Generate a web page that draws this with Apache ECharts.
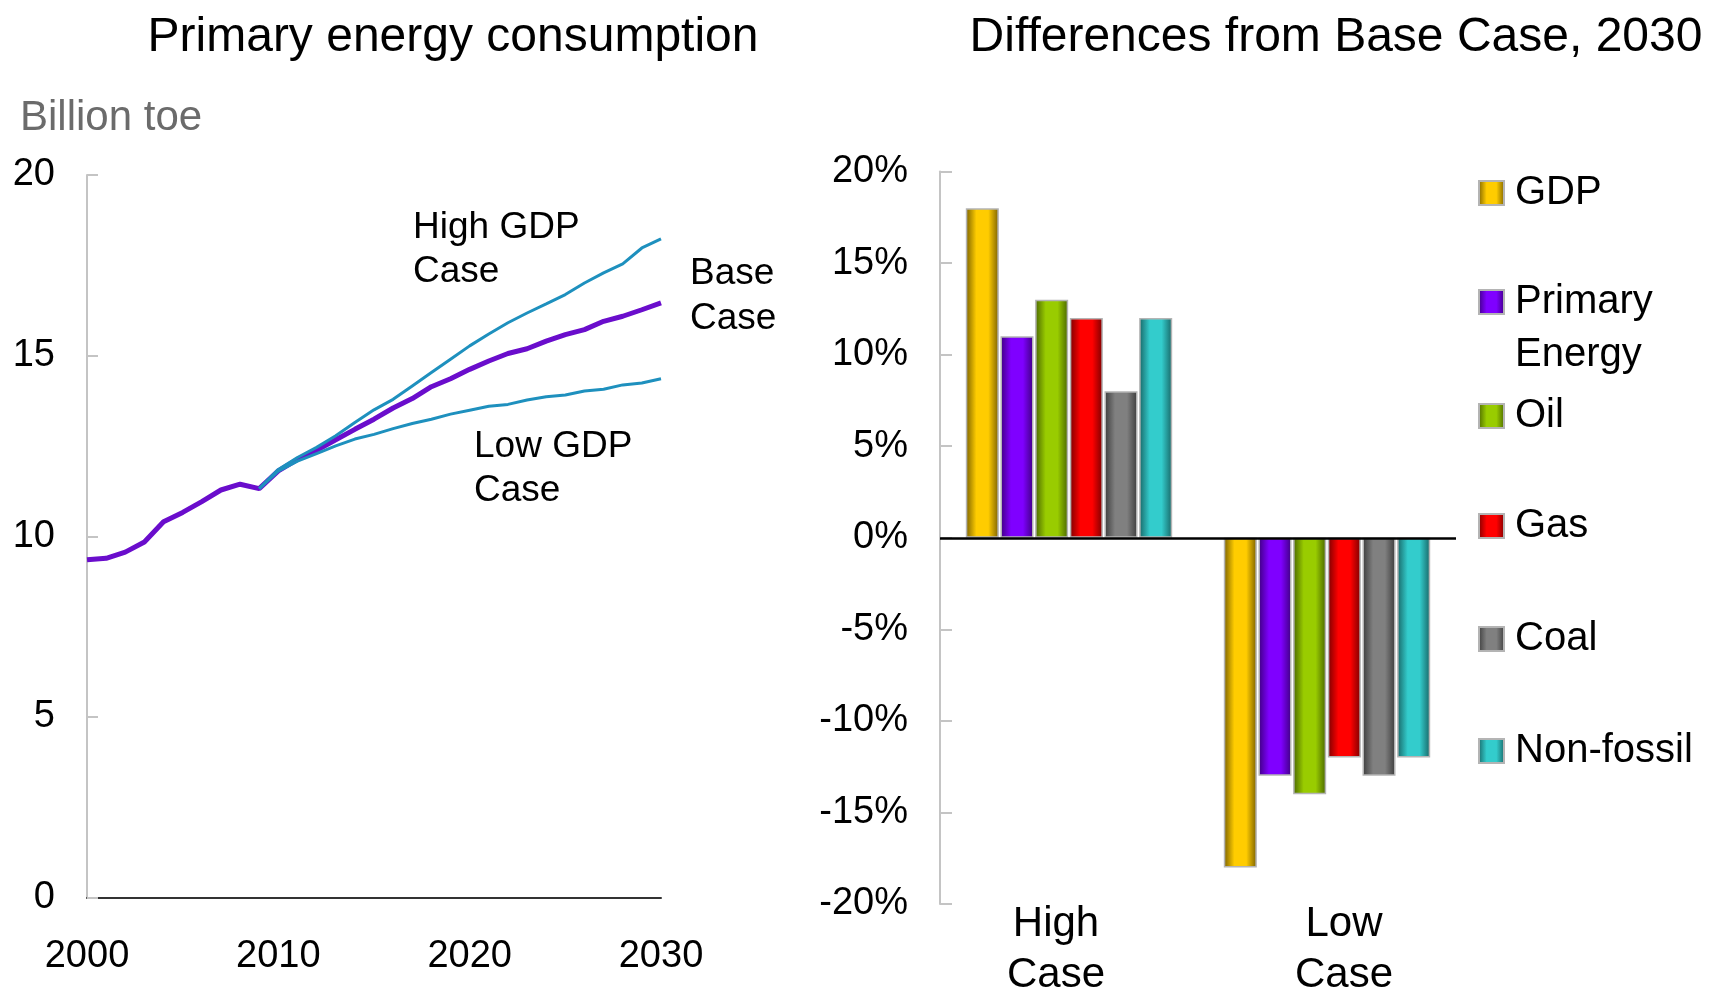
<!DOCTYPE html>
<html>
<head>
<meta charset="utf-8">
<script src="https://cdn.jsdelivr.net/npm/echarts@6/dist/echarts.min.js"></script>
<style>
html,body{margin:0;padding:0;background:#fff;}
#chart{width:1724px;height:994px;}
</style>
</head>
<body>
<div id="chart"></div>
<script>
// ---------- Data ----------
const years = ['2000','2001','2002','2003','2004','2005','2006','2007','2008','2009',
  '2010','2011','2012','2013','2014','2015','2016','2017','2018','2019',
  '2020','2021','2022','2023','2024','2025','2026','2027','2028','2029','2030'];
const baseCase = [9.35, 9.39, 9.56, 9.84, 10.40, 10.66, 10.96, 11.28, 11.44, 11.32,
  11.81, 12.13, 12.38, 12.67, 12.96, 13.24, 13.55, 13.81, 14.14, 14.36,
  14.62, 14.85, 15.06, 15.19, 15.40, 15.58, 15.72, 15.95, 16.09, 16.27, 16.46];
const highGdpCase = [null, null, null, null, null, null, null, null, null, 11.32,
  11.85, 12.18, 12.46, 12.78, 13.15, 13.50, 13.79, 14.16, 14.53, 14.90,
  15.27, 15.60, 15.91, 16.18, 16.43, 16.69, 17.01, 17.29, 17.54, 17.98, 18.23];
const lowGdpCase = [null, null, null, null, null, null, null, null, null, 11.32,
  11.80, 12.08, 12.29, 12.50, 12.69, 12.82, 12.98, 13.12, 13.24, 13.38,
  13.49, 13.60, 13.65, 13.77, 13.86, 13.91, 14.02, 14.07, 14.19, 14.24, 14.36];

const barCategories = ['High\nCase', 'Low\nCase'];
const barSeriesNames = ['GDP', 'Primary Energy', 'Oil', 'Gas', 'Coal', 'Non-fossil'];
const gdpDiff = [18, -18];
const primaryEnergyDiff = [11, -13];
const oilDiff = [13, -14];
const gasDiff = [12, -12];
const coalDiff = [8, -13];
const nonFossilDiff = [12, -12];

const leftTitle = 'Primary energy consumption';
const rightTitle = 'Differences from Base Case, 2030';
const leftUnit = 'Billion toe';

// ---------- Styles ----------
const FONT = '"Liberation Sans", Arial, Helvetica, sans-serif';
const barColors = [
  ['#FFCC00', '#7A6000'],
  ['#7F00FF', '#3E0080'],
  ['#99CC00', '#4A6600'],
  ['#FF0000', '#7A0000'],
  ['#808080', '#3C3C3C'],
  ['#33CCCC', '#186666']
];
function cyl(c) {
  return {
    type: 'linear', x: 0, y: 0, x2: 1, y2: 0,
    colorStops: [
      {offset: 0, color: c[1]},
      {offset: 0.32, color: c[0]},
      {offset: 0.68, color: c[0]},
      {offset: 1, color: c[1]}
    ]
  };
}
const barValues = [gdpDiff, primaryEnergyDiff, oilDiff, gasDiff, coalDiff, nonFossilDiff];
const legendCenters = [192, 302, 415, 525, 638, 750];

const chart = echarts.init(document.getElementById('chart'), null, {renderer: 'canvas'});

const barSeries = barSeriesNames.map((name, i) => {
  const s = {
    name: name,
    type: 'bar',
    xAxisIndex: 1, yAxisIndex: 1,
    data: barValues[i],
    barCategoryGap: '20%',
    barGap: '5%',
    itemStyle: {color: cyl(barColors[i]), borderColor: '#b4b4b4', borderWidth: 1.5},
    emphasis: {disabled: true},
    animation: false
  };
  if (i === 0) {
    s.markLine = {
      silent: true, symbol: ['none', 'none'], label: {show: false},
      lineStyle: {color: '#000', width: 2.5, type: 'solid'},
      data: [{yAxis: 0}], animation: false, z: 10
    };
  }
  return s;
});

const LH = 53;
const legends = barSeriesNames.map((name, i) => {
  const multi = name === 'Primary Energy';
  return {
    data: [name],
    orient: 'vertical',
    left: 1478,
    top: multi ? legendCenters[i] - 1.5 * LH : legendCenters[i] - 20,
    padding: 0,
    itemWidth: 25, itemHeight: 24,
    icon: 'rect',
    selectedMode: false,
    formatter: multi ? '\nPrimary\nEnergy' : '{name}',
    textStyle: {fontSize: 40, fontFamily: FONT, color: '#000', lineHeight: multi ? LH : 42,
                padding: [0, 0, 0, 6]}
  };
});

const option = {
  backgroundColor: '#fff',
  animation: false,
  textStyle: {fontFamily: FONT},
  title: [
    {text: leftTitle, left: 453, top: 14, textAlign: 'center', padding: 0,
     textStyle: {fontSize: 48, fontWeight: 'normal', color: '#000', fontFamily: FONT}},
    {text: rightTitle, left: 1336, top: 14, textAlign: 'center', padding: 0,
     textStyle: {fontSize: 48, fontWeight: 'normal', color: '#000', fontFamily: FONT}}
  ],
  legend: legends,
  graphic: [
    {type: 'text', x: 20, y: 118, silent: true,
     style: {text: leftUnit, font: '42px ' + FONT, fill: '#6b6b6b', textVerticalAlign: 'middle'}},
    {type: 'text', x: 413, y: 250, silent: true,
     style: {text: 'High GDP\nCase', font: '37px ' + FONT, fill: '#000', lineHeight: 44, textVerticalAlign: 'middle'}},
    {type: 'text', x: 690, y: 296, silent: true,
     style: {text: 'Base\nCase', font: '37px ' + FONT, fill: '#000', lineHeight: 45, textVerticalAlign: 'middle'}},
    {type: 'text', x: 474, y: 469, silent: true,
     style: {text: 'Low GDP\nCase', font: '37px ' + FONT, fill: '#000', lineHeight: 44, textVerticalAlign: 'middle'}}
  ],
  grid: [
    {left: 87, right: 1063, top: 175, bottom: 96.5, containLabel: false, outerBoundsMode: 'none'},
    {left: 940, right: 268, top: 171.5, bottom: 90, containLabel: false, outerBoundsMode: 'none'}
  ],
  xAxis: [
    {
      type: 'category', gridIndex: 0, data: years, boundaryGap: false,
      axisLine: {lineStyle: {color: '#333', width: 2}},
      axisTick: {show: false},
      axisLabel: {interval: 9, fontSize: 38, color: '#000', margin: 40, fontFamily: FONT},
      splitLine: {show: false}
    },
    {
      type: 'category', gridIndex: 1, data: [
        {value: barCategories[0], textStyle: {padding: [0, 26, 0, 0]}},
        {value: barCategories[1], textStyle: {padding: [0, 0, 0, 34]}}
      ],
      position: 'bottom',
      axisLine: {show: false, onZero: false},
      axisTick: {show: false},
      axisLabel: {fontSize: 42, color: '#000', margin: -5, lineHeight: 51, fontFamily: FONT},
      splitLine: {show: false}
    }
  ],
  yAxis: [
    {
      type: 'value', gridIndex: 0, min: 0, max: 20, interval: 5,
      axisLine: {show: true, lineStyle: {color: '#c4c4c4', width: 2}},
      axisTick: {show: true, inside: true, length: 11, lineStyle: {color: '#c4c4c4', width: 2}},
      axisLabel: {fontSize: 38, color: '#000', margin: 32, fontFamily: FONT},
      splitLine: {show: false}
    },
    {
      type: 'value', gridIndex: 1, min: -20, max: 20, interval: 5,
      axisLine: {show: true, onZero: false, lineStyle: {color: '#c4c4c4', width: 2}},
      axisTick: {show: true, inside: true, length: 12, lineStyle: {color: '#c4c4c4', width: 2}},
      axisLabel: {fontSize: 38, color: '#000', margin: 32, formatter: '{value}%', fontFamily: FONT},
      splitLine: {show: false}
    }
  ],
  series: [
    {name: 'Base Case', type: 'line', xAxisIndex: 0, yAxisIndex: 0, data: baseCase,
     symbol: 'none', lineStyle: {color: '#6A0DCC', width: 5}, itemStyle: {color: '#6A0DCC'}, z: 2},
    {name: 'High GDP Case', type: 'line', xAxisIndex: 0, yAxisIndex: 0, data: highGdpCase,
     symbol: 'none', lineStyle: {color: '#1E90BE', width: 3}, itemStyle: {color: '#1E90BE'}, z: 3},
    {name: 'Low GDP Case', type: 'line', xAxisIndex: 0, yAxisIndex: 0, data: lowGdpCase,
     symbol: 'none', lineStyle: {color: '#1E90BE', width: 3}, itemStyle: {color: '#1E90BE'}, z: 3}
  ].concat(barSeries)
};

chart.setOption(option);
</script>
</body>
</html>
